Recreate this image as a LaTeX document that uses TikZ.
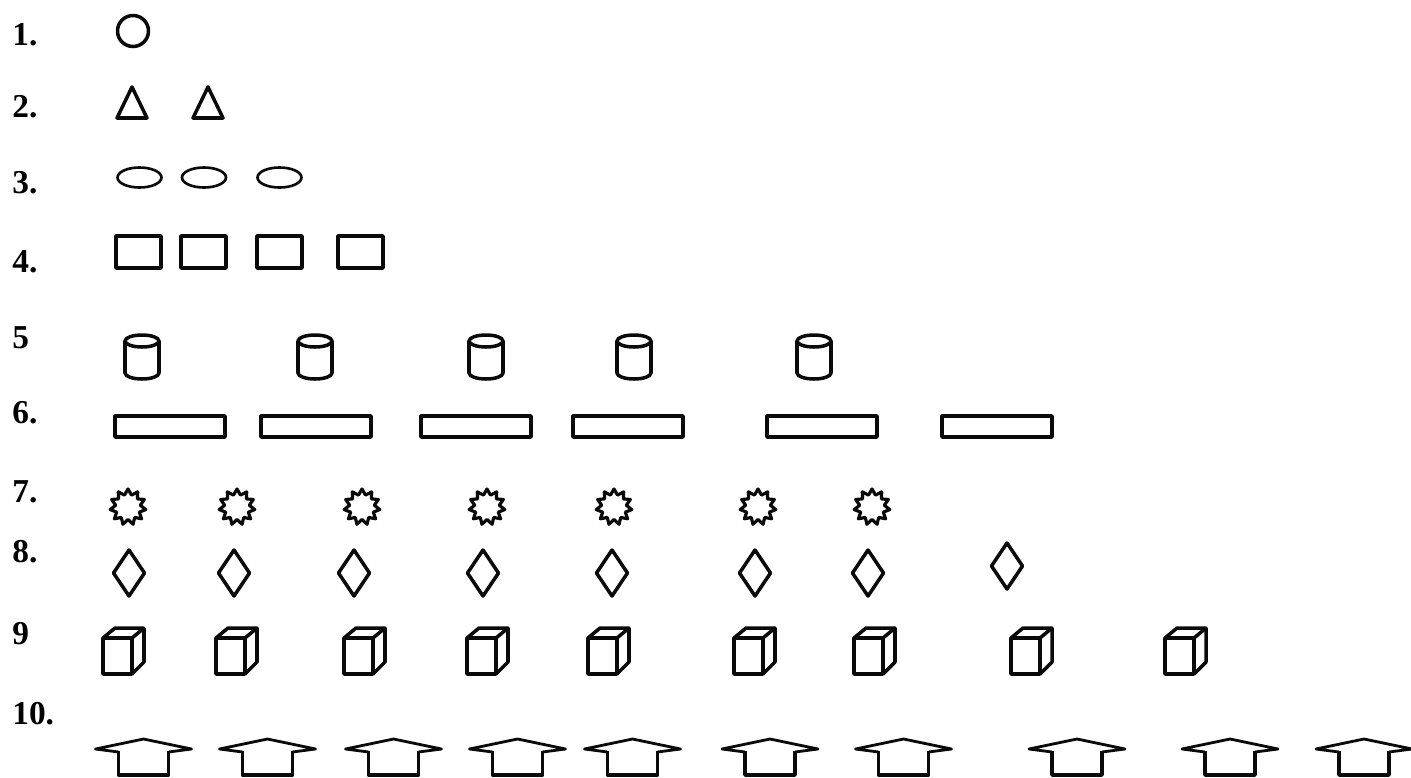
\documentclass[tikz,border=0pt]{standalone}
\usepackage{fontspec}
\setmainfont{Liberation Serif}
\usepackage{tikz}
\usetikzlibrary{shapes.geometric, positioning}
\definecolor{inkblack}{RGB}{10, 10, 10}
\tikzset{
    rowlabel/.style={anchor=west, inner sep=0pt,
                     font=\bfseries\fontsize{19}{20}\selectfont},
    figline/.style={draw=inkblack, line width=2pt, line join=round},
    thinline/.style={draw=inkblack, line width=1.5pt},
    sunstar/.style={star, star points=11, star point ratio=1.45,
                    minimum size=0.72cm, inner sep=0pt, figline,
                    line width=1.8pt},
}

\begin{document}
\begin{tikzpicture}[x=0.02cm, y=-0.02cm]
    \useasboundingbox (0,0) rectangle (1411,778);
    % ROW LABELS
    \foreach \i/\txt/\yy in {1/1./35, 2/2./107, 3/3./183, 4/4./262, 5/5/338,
                             6/6./413, 7/7./492, 8/8./552, 9/9/634, 10/10./714}
        \node[rowlabel] (l\i) at (12,\yy) {\txt};
    % Row 1: circle
    \draw[figline] (133,31) circle[radius=15.5];
    % Row 2: triangles
    \foreach \c in {132, 208}
        \draw[figline] (\c-15,118) -- (\c,87) -- (\c+15,118) -- cycle;
    % Row 3: ellipses
    \foreach \c in {139.5, 204, 279.5}
        \draw[thinline] (\c,177.5) ellipse[x radius=22, y radius=10];
    % Row 4: squares
    \foreach \l in {116, 181, 257, 338}
        \draw[figline] (\l,236) rectangle ++(45,32);
    % Row 5: cylinders
    \foreach \c in {142, 315, 486, 634, 814} {
        \draw[figline] (\c,341) ellipse[x radius=17, y radius=6];
        \draw[figline] (\c-17,341) -- (\c-17,373)
            arc[start angle=180, end angle=0, x radius=17, y radius=6]
            -- (\c+17,341);
    }
    % Row 6: long bars
    \foreach \l in {115, 261, 421, 573, 767, 942}
        \draw[figline] (\l,416) rectangle ++(110,21);
    % Row 7: stars
    \foreach \c [count=\i] in {128, 237, 362, 487, 614, 758, 872}
        \node[sunstar] (s\i) at (\c,507) {};
    % Row 8: diamonds
    \foreach \c/\m in {129/573, 234/573, 354/573, 483/573, 612/573,
                       755/573, 868/573, 1007/566}
        \draw[figline] (\c,\m-23) -- (\c+15.5,\m) -- (\c,\m+23)
            -- (\c-15.5,\m) -- cycle;
    % Row 9: cubes
    \foreach \l in {103, 216, 344, 467, 588, 734, 854, 1011, 1165} {
        \draw[figline] (\l,638) rectangle ++(29,36);
        \draw[figline] (\l,638) -- (\l+12,628) -- (\l+41,628) -- (\l+41,662)
            -- (\l+29,674);
        \draw[figline] (\l+29,638) -- (\l+41,628);
    }
    % Row 10: roof arrows
    \foreach \c in {143.5, 267.5, 393.5, 517.5, 632.5, 770, 903.5, 1077, 1230, 1364} {
        \draw[figline, line width=1.6pt] (\c-25,752) -- (\c-48,749) -- (\c,739)
            -- (\c+48,749) -- (\c+25,752);
        \draw[figline] (\c-25,751) -- (\c-25,775) -- (\c+25,775) -- (\c+25,751);
    }
\end{tikzpicture}
\end{document}
